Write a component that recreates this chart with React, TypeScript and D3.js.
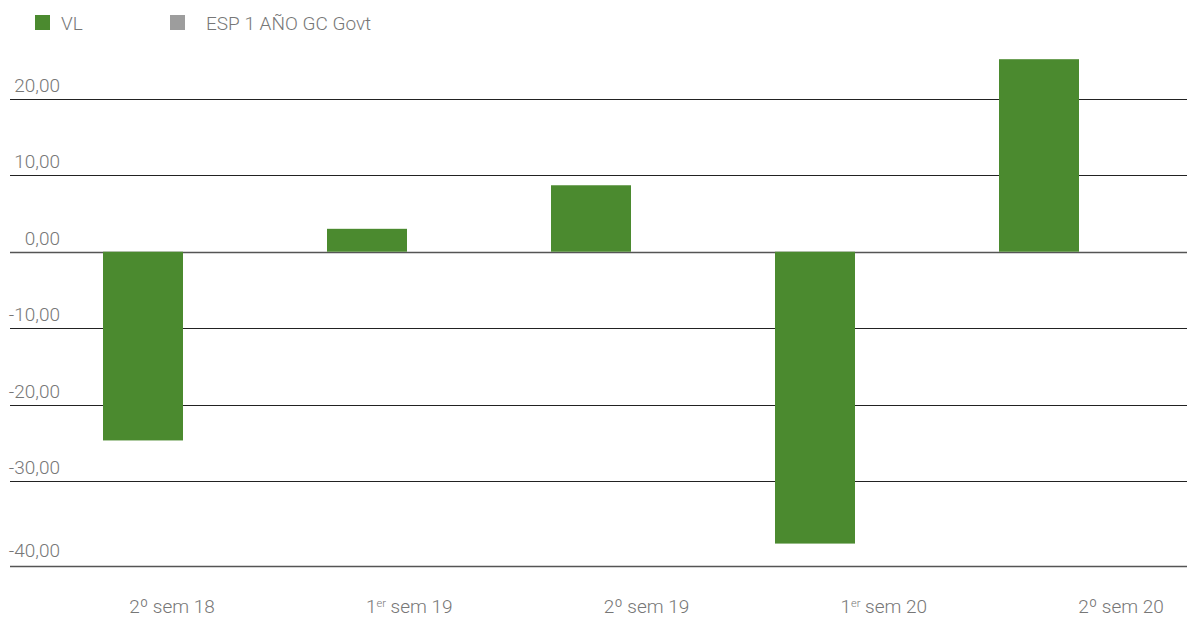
import React from "react";
import * as d3 from "d3";

const categories = ["2º sem 18", "1er sem 19", "2º sem 19", "1er sem 20", "2º sem 20"];
const series = ["VL", "ESP 1 AÑO GC Govt"];
const vlValues = [-24.7, 3.0, 8.7, -38.2, 25.2];
const yTickValues = [20, 10, 0, -10, -20, -30];
const yBottom = -41.2;
const yBottomLabel = "-40,00";

const W = 1187;
const H = 621;
const GREEN = "#4b8a2f";
const GREY = "#9d9d9d";
const TEXT = "#777777";
const FONT = "Roboto, 'Open Sans', sans-serif";
const FS = 19;

const fmt = (v: number) => d3.format(".2f")(v).replace(".", ",").replace("−", "-");

function CatLabel({ label, x }: { label: string; x: number }) {
  // "1er ..." gets a superscript
  if (label.startsWith("1er")) {
    return (
      <text x={x} y={613} textAnchor="middle" fontSize={FS} fill={TEXT} fontFamily={FONT} fontWeight={300}>
        1
        <tspan fontSize={11} dy={-6}>er</tspan>
        <tspan dy={6}>{label.slice(3)}</tspan>
      </text>
    );
  }
  return (
    <text x={x} y={613} textAnchor="middle" fontSize={FS} fill={TEXT} fontFamily={FONT} fontWeight={300}>
      {label}
    </text>
  );
}

export default function App() {
  const x = d3
    .scaleBand<string>()
    .domain(categories)
    .range([71, 1191])
    .paddingInner(2 / 7)
    .paddingOuter(1 / 7);
  const xInner = d3.scaleBand<string>().domain(series).range([0, x.bandwidth()]);
  const xLabel = d3.scalePoint<string>().domain(categories).range([172, 1121]);
  const y = d3.scaleLinear().domain([yBottom, 30]).range([566.5, 566.5 - (30 - yBottom) * 7.64]);

  return (
    <svg width={W} height={H} style={{ position: "absolute", left: 0, top: 0 }}>
      {/* legend */}
      <rect x={35} y={15} width={15} height={15} fill={GREEN} />
      <text x={61} y={30} fontSize={FS} fill={TEXT} fontFamily={FONT} fontWeight={300}>
        {series[0]}
      </text>
      <rect x={170} y={15} width={15} height={15} fill={GREY} />
      <text x={206} y={30} fontSize={FS} fill={TEXT} fontFamily={FONT} fontWeight={300}>
        {series[1]}
      </text>

      {/* grid + y labels */}
      {yTickValues.map((v) => (
        <g key={v}>
          <line
            x1={10}
            x2={W}
            y1={Math.round(y(v)) + 0.5}
            y2={Math.round(y(v)) + 0.5}
            stroke={v === 0 ? "#555" : "#222"}
            strokeWidth={v === 0 ? 1.6 : 1}
          />
          <text x={60} y={y(v) - 7} textAnchor="end" fontSize={FS} fill={TEXT} fontFamily={FONT} fontWeight={300}>
            {fmt(v)}
          </text>
        </g>
      ))}
      <line x1={10} x2={W} y1={y(yBottom)} y2={y(yBottom)} stroke="#555" strokeWidth={1.6} />
      <text x={60} y={y(yBottom) - 10} textAnchor="end" fontSize={FS} fill={TEXT} fontFamily={FONT} fontWeight={300}>
        {yBottomLabel}
      </text>

      {/* bars */}
      {vlValues.map((v, i) => (
        <rect
          key={categories[i]}
          x={(x(categories[i]) ?? 0) + (xInner(series[0]) ?? 0)}
          y={y(Math.max(0, v))}
          width={xInner.bandwidth()}
          height={Math.abs(y(v) - y(0))}
          fill={GREEN}
        />
      ))}

      {/* category labels */}
      {categories.map((c) => (
        <CatLabel key={c} label={c} x={xLabel(c) ?? 0} />
      ))}
    </svg>
  );
}
